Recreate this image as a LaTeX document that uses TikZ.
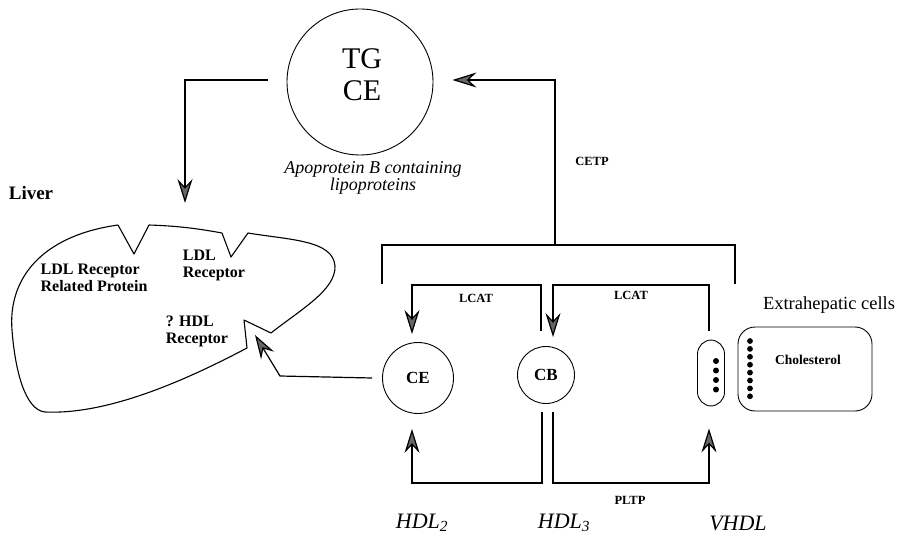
\documentclass[tikz,border=0pt]{standalone}
\usepackage{fontspec}
\setmainfont{Liberation Serif}
\usetikzlibrary{arrows.meta}

\tikzset{
  wire/.style={line width=1.2pt},
  arr/.style={wire, -{Stealth[length=24pt,width=15pt,inset=8pt,fill=black!60]}},
  enz/.style={font=\bfseries\fontsize{12.5}{13}\selectfont},
  rcpt/.style={font=\bfseries\fontsize{16}{17}\selectfont, align=left},
  hdl/.style={font=\itshape\fontsize{22}{24}\selectfont},
  particle/.style={draw, circle, line width=0.9pt, font=\bfseries\fontsize{17}{19}\selectfont},
}

\begin{document}
\begin{tikzpicture}[x=1pt,y=-1pt]
\useasboundingbox (0,0) rectangle (900,535);

% ===== Apoprotein B particle =====

\node[draw, circle, line width=0.9pt, minimum size=146pt] (tgce) at (360,82) {};
\node[font=\fontsize{30}{32}\selectfont, align=center] (tgtxt) at (362,75) {TG\\CE};
\node[font=\itshape\fontsize{18}{16}\selectfont, align=center] (apo) at (373,178)
      {Apoprotein B containing\\lipoproteins};

% ===== Liver =====

\node[font=\bfseries\fontsize{19}{20}\selectfont] (liverlbl) at (31,193) {Liver};
\draw[line width=1.1pt, line join=round] (118,225) -- (134,254) -- (149,225)
  .. controls (180,226) and (200,229) .. (222,233) -- (231,257) -- (248,233)
  .. controls (290,240) and (333,240) .. (335,266)
  .. controls (336,290) and (300,310) .. (271,333)
  -- (244,320) -- (247,348)
  .. controls (190,378) and (110,415) .. (45,412)
  .. controls (25,410) and (15,370) .. (12,330)
  .. controls (8,280) and (40,236) .. (118,225);

\node[rcpt] (lrp) at (94,278) {LDL Receptor\\Related Protein};
\node[rcpt] (ldlr) at (214,265) {LDL\\Receptor};
\node[rcpt] (hdlr) at (197,331) {? HDL\\Receptor};

% ===== HDL particles =====

\node[particle, minimum size=71pt] (ce2) at (418,378) {CE};
\node[particle, minimum size=57pt] (cb3) at (546,375) {CB};
\node[draw, line width=0.9pt, rounded corners=14pt, minimum width=27pt,
      minimum height=66pt] (vhdl) at (711,373) {};
\foreach \k in {0,...,3}
  \fill (716,{361+\k*9.5}) circle (3);

% ===== Extrahepatic cells =====

\node[font=\fontsize{18.5}{20}\selectfont] (extra) at (829,305) {Extrahepatic cells};
\node[draw, line width=0.9pt, rounded corners=17pt, minimum width=134pt,
      minimum height=84pt] (cell) at (805,369) {};
\node[font=\bfseries\fontsize{13.5}{14}\selectfont] (chol) at (808,360) {Cholesterol};
\foreach \k in {0,...,7}
  \fill (750,{341+\k*7.9}) circle (2.9);

% ===== Coordinates =====

\coordinate (liverin) at (185,203);
\coordinate (cetpj) at (555,245);
\coordinate (brl) at (382,284);
\coordinate (brr) at (735,284);
\coordinate (lc1) at (541,331);
\coordinate (lc2) at (709,331);
\coordinate (lcy) at (0,285);
\coordinate (bt1) at (542,412);
\coordinate (bt2) at (553,412);
\coordinate (bty) at (0,483);
\coordinate (hdlk) at (280,376);
\coordinate (hdltip) at (255,335);

% ===== Connectors =====

\draw[arr] ([xshift=-19pt,yshift=2pt]tgce.west) -| (liverin);
\draw[wire] (brl) |- (cetpj) -| (brr);
\draw[arr] (cetpj) |- ([xshift=19pt,yshift=2pt]tgce.east);

\draw[arr] (lc1) -- (lc1 |- lcy) -| ([xshift=-6pt,yshift=8pt]ce2.north);
\draw[arr] (lc2) -- (lc2 |- lcy) -| ([xshift=7pt,yshift=9pt]cb3.north);

\draw[arr] (bt1) -- (bt1 |- bty) -| ([xshift=-6pt,yshift=-15pt]ce2.south);
\draw[arr] (bt2) -- (bt2 |- bty) -| ([xshift=-2pt,yshift=-22pt]vhdl.south);

\draw[arr] ([xshift=-10pt]ce2.west) -- (hdlk) -- (hdltip);

% ===== Labels =====

\node[enz] (cetp) at (592,161) {CETP};
\node[enz] (lcat1) at (476,298) {LCAT};
\node[enz] (lcat2) at (631,295) {LCAT};
\node[enz] (pltp) at (630,500) {PLTP};

\node[hdl] (hdl2) at (422,523) {HDL\textsubscript{2}};
\node[hdl] (hdl3) at (564,523) {HDL\textsubscript{3}};
\node[hdl] (vhdllbl) at (738,523) {VHDL};

\end{tikzpicture}
\end{document}
